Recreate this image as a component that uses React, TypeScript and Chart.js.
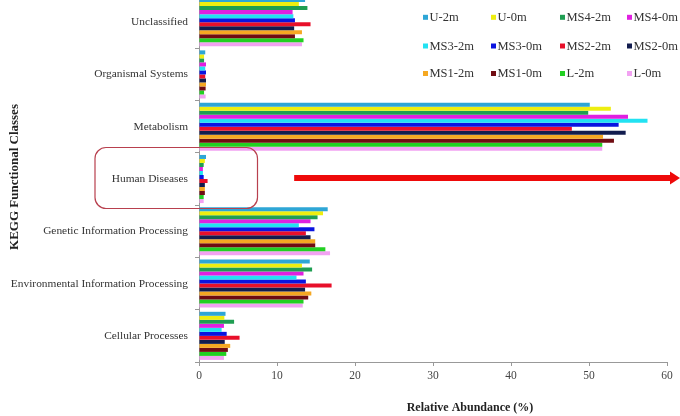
import { useEffect, useRef } from "react";
import { Chart, registerables } from "chart.js";
Chart.register(...registerables);

const categories = [
  "Unclassified",
  "Organismal Systems",
  "Metabolism",
  "Human Diseases",
  "Genetic Information Processing",
  "Environmental Information Processing",
  "Cellular Processes",
];
const seriesNames = ["U-2m", "U-0m", "MS4-2m", "MS4-0m", "MS3-2m", "MS3-0m", "MS2-2m", "MS2-0m", "MS1-2m", "MS1-0m", "L-2m", "L-0m"];
const seriesColors = ["#2ea6d6", "#eeee10", "#1f9e52", "#e020e0", "#22e2f2", "#0a14e0", "#e8102a", "#121c4e", "#f5a822", "#700c12", "#22d022", "#f2a2f2"];

const u2m = [13.6, 0.8, 50.1, 0.9, 16.5, 14.2, 3.4];
const u0m = [12.8, 0.65, 52.8, 0.75, 15.9, 13.2, 3.25];
const ms4_2m = [13.9, 0.65, 49.9, 0.6, 15.2, 14.5, 4.5];
const ms4_0m = [12.0, 0.9, 55.0, 0.5, 14.3, 13.4, 3.2];
const ms3_2m = [12.1, 0.8, 57.5, 0.5, 12.8, 12.5, 2.9];
const ms3_0m = [12.3, 0.9, 53.8, 0.6, 14.8, 13.7, 3.55];
const ms2_2m = [14.3, 0.8, 47.8, 1.1, 13.7, 17.0, 5.2];
const ms2_0m = [12.2, 0.9, 54.7, 0.75, 14.3, 13.6, 3.3];
const ms1_2m = [13.2, 0.9, 51.8, 0.75, 14.9, 14.4, 4.0];
const ms1_0m = [12.3, 0.85, 53.2, 0.75, 14.9, 14.0, 3.7];
const l2m = [13.4, 0.65, 51.7, 0.6, 16.2, 13.4, 3.5];
const l0m = [13.2, 0.85, 51.7, 0.6, 16.8, 13.3, 3.2];
const seriesValues = [u2m, u0m, ms4_2m, ms4_0m, ms3_2m, ms3_0m, ms2_2m, ms2_0m, ms1_2m, ms1_0m, l2m, l0m];

const xTicks = [0, 10, 20, 30, 40, 50, 60];

const FONT = '"Liberation Serif", "Times New Roman", serif';
const W = 680;
const H = 436;
const OFF = 20;

const overlayPlugin = {
  id: "overlay",
  afterDraw(chart: any) {
    const ctx = chart.ctx as CanvasRenderingContext2D;
    const xs = chart.scales.x;
    const ys = chart.scales.y;
    ctx.save();
    // Legend grid
    const colX = [423, 491, 560, 627];
    const rowY = [17.3 + OFF, 46 + OFF, 73.5 + OFF];
    ctx.font = `12.5px ${FONT}`;
    ctx.textBaseline = "middle";
    ctx.textAlign = "left";
    chart.data.datasets.forEach((ds: any, i: number) => {
      const cx = colX[i % 4];
      const cy = rowY[Math.floor(i / 4)];
      ctx.fillStyle = ds.backgroundColor;
      ctx.fillRect(cx, cy - 2.5, 5, 5);
      ctx.fillStyle = "#333";
      ctx.fillText(ds.label, cx + 6.5, cy + 0.5);
    });
    // Axis titles
    ctx.fillStyle = "#222";
    ctx.font = `bold 12px ${FONT}`;
    ctx.textAlign = "center";
    ctx.fillText("Relative Abundance (%)", 470, 408 + OFF);
    ctx.save();
    ctx.font = `bold 13px ${FONT}`;
    ctx.translate(15, 177 + OFF);
    ctx.rotate(-Math.PI / 2);
    ctx.fillText("KEGG Functional Classes", 0, 0);
    ctx.restore();
    // Annotation box around Human Diseases
    const yc = ys.getPixelForValue(3) - 1;
    const left = 95;
    const right = xs.getPixelForValue(7.5);
    const top = yc - 30.5;
    const bottom = yc + 30.5;
    const r = 11;
    ctx.strokeStyle = "#b8404e";
    ctx.lineWidth = 1.2;
    ctx.beginPath();
    ctx.moveTo(left + r, top);
    ctx.lineTo(right - r, top);
    ctx.arcTo(right, top, right, top + r, r);
    ctx.lineTo(right, bottom - r);
    ctx.arcTo(right, bottom, right - r, bottom, r);
    ctx.lineTo(left + r, bottom);
    ctx.arcTo(left, bottom, left, bottom - r, r);
    ctx.lineTo(left, top + r);
    ctx.arcTo(left, top, left + r, top, r);
    ctx.closePath();
    ctx.stroke();
    // Arrow
    const ax0 = xs.getPixelForValue(12.2);
    const ax1 = W;
    ctx.fillStyle = "#ee0a0a";
    ctx.fillRect(ax0, yc - 3, ax1 - 9 - ax0, 6);
    ctx.beginPath();
    ctx.moveTo(ax1 - 10, yc - 6.5);
    ctx.lineTo(ax1, yc);
    ctx.lineTo(ax1 - 10, yc + 6.5);
    ctx.closePath();
    ctx.fill();
    ctx.restore();
  },
};

export default function App() {
  const ref = useRef<HTMLCanvasElement>(null);
  useEffect(() => {
    if (!ref.current) return;
    const chart = new Chart(ref.current, {
      type: "bar",
      data: {
        labels: categories,
        datasets: seriesNames.map((name, i) => ({
          label: name,
          data: seriesValues[i],
          backgroundColor: seriesColors[i],
          borderWidth: 0,
          barPercentage: 1,
          categoryPercentage: 0.92,
        })),
      },
      options: {
        indexAxis: "y",
        animation: false,
        responsive: false,
        devicePixelRatio: 1,
        layout: { padding: { top: 16, right: 13, bottom: 0, left: 0 } },
        plugins: { legend: { display: false }, tooltip: { enabled: false } },
        scales: {
          x: {
            min: 0,
            max: 60,
            afterBuildTicks: (scale: any) => {
              scale.ticks = xTicks.map((v) => ({ value: v }));
            },
            afterFit: (scale: any) => {
              scale.height = 54;
            },
            ticks: { color: "#444", font: { family: FONT, size: 11.5 }, padding: 3 },
            grid: { drawOnChartArea: false, tickLength: 4, color: "#999" },
            border: { color: "#999" },
          },
          y: {
            afterFit: (scale: any) => {
              scale.width = 199;
            },
            ticks: { color: "#333", font: { family: FONT, size: 11.4 }, padding: 7 },
            grid: { drawOnChartArea: false, offset: true, tickLength: 4, color: "#999" },
            border: { color: "#999" },
          },
        },
      },
      plugins: [overlayPlugin],
    } as any);
    return () => chart.destroy();
  }, []);
  return (
    <div style={{ position: "absolute", left: 0, top: 0, width: W, height: 416, overflow: "hidden", background: "#fff" }}>
      <canvas ref={ref} width={W} height={H} style={{ position: "absolute", left: 0, top: -OFF, width: W, height: H }} />
    </div>
  );
}
